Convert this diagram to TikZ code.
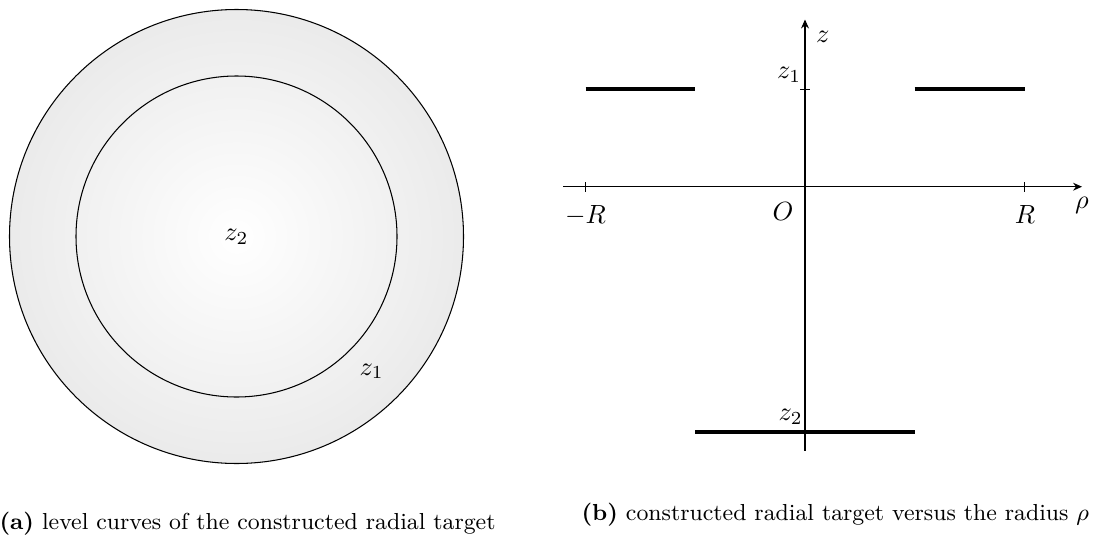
\documentclass[tikz,border=0pt]{standalone}
\usetikzlibrary{arrows.meta}
\begin{document}
\begin{tikzpicture}[x=0.38pt,y=-0.38pt,
  thinline/.style={line width=0.4pt},
  level/.style={line width=1.63pt, line cap=butt},
  axis/.style={line width=0.4pt, -{Stealth[length=3.4pt,width=3pt]}},
  tickmark/.style={line width=0.3pt},
  lab/.style={inner sep=0pt, font=\normalsize},
  captxt/.style={inner sep=0pt, anchor=base west, font=\fontsize{8.8}{10.5}\selectfont}]
\useasboundingbox (0,0) rectangle (1094,544);
% ---- (a) level curves ----
\coordinate (C) at (236.5,236.5);
\shade[inner color=white, outer color=black!8] (C) circle[radius=227];
\draw[thinline] (C) circle[radius=227];
\draw[thinline] (C) circle[radius=160.5];
\node[lab] (za) at (C) {$z_2$};
\node[lab, anchor=base] (zb) at (371.7,375) {$z_1$};
% ---- (b) plot ----
\coordinate (O) at (805,186.7);
\coordinate (xl) at (563,186.7);
\coordinate (xr) at (1082,186.7);
\coordinate (yb) at (805,450.7);
\coordinate (yt) at (805,19.5);
\draw[axis] (xl) -- (xr);
\draw[axis] (yb) -- (yt);
\coordinate (mR) at (585.5,186.7);
\coordinate (pR) at (1024.5,186.7);
\coordinate (z1t) at (805,89.3);
\coordinate (z2t) at (805,432.3);
\draw[tickmark] ([yshift=-5*0.38pt]mR) -- ([yshift=5*0.38pt]mR);
\draw[tickmark] ([yshift=-5*0.38pt]pR) -- ([yshift=5*0.38pt]pR);
\draw[tickmark] ([xshift=-5*0.38pt]z1t) -- ([xshift=5*0.38pt]z1t);
\draw[tickmark] ([xshift=-5*0.38pt]z2t) -- ([xshift=5*0.38pt]z2t);
% level segments
\coordinate (a1) at (585.5,89.3);
\coordinate (a2) at (695.3,89.3);
\coordinate (b1) at (914.7,89.3);
\coordinate (b2) at (1024.5,89.3);
\coordinate (c1) at (695.3,432.3);
\coordinate (c2) at (914.7,432.3);
\draw[level] (a1) -- (a2);
\draw[level] (b1) -- (b2);
\draw[level] (c1) -- (c2);
% labels
\node[lab, anchor=base] (lmR) at (585.5,223.3) {$-R$};
\node[lab, anchor=base] (lpR) at (1025,223.3) {$R$};
\node[lab, anchor=base east] (lO) at (794,220.5) {$O$};
\node[lab, anchor=north] (lrho) at (1082,196.7) {$\rho$};
\node[lab, anchor=north] (lz) at (822.8,30.7) {$z$};
\node[lab, anchor=base east] (lz1) at (801.7,78.3) {$z_1$};
\node[lab, anchor=base east] (lz2) at (803.3,420.7) {$z_2$};
% captions
\node[captxt] (capa) at (-1,529) {\textbf{(a)}~level curves of the constructed radial target};
\node[captxt] (capb) at (581,520) {\textbf{(b)}~constructed radial target versus the radius $\rho$};
\end{tikzpicture}
\end{document}
